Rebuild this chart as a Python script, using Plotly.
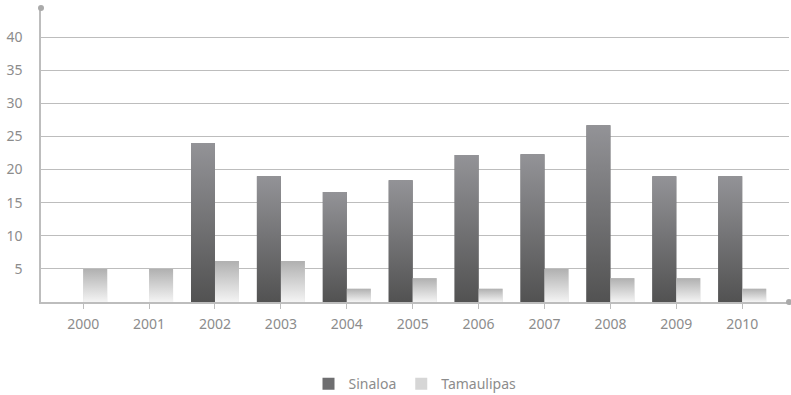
import plotly.graph_objects as go

# Data
years = ["2000", "2001", "2002", "2003", "2004", "2005", "2006", "2007", "2008", "2009", "2010"]
sinaloa = [0, 0, 24.0, 19.0, 16.6, 18.4, 22.2, 22.3, 26.7, 19.0, 19.0]
tamaulipas = [5.0, 5.0, 6.2, 6.2, 2.0, 3.6, 2.0, 5.0, 3.6, 3.6, 2.0]
y_ticks = [5, 10, 15, 20, 25, 30, 35, 40]

TEXT = "#8c8c8c"
AXIS = "#bdbdbd"
BAR_W = 0.364  # width of one bar, in category units
xs = list(range(len(years)))

# name, values, side offset, solid colour, vertical gradient (bottom -> top)
series = [
    ("Sinaloa", sinaloa, -1, "#6e6e70", [[0, "#525252"], [1, "#939397"]]),
    ("Tamaulipas", tamaulipas, 0, "#d6d6d6", [[0, "#f4f4f4"], [1, "#b0b0b0"]]),
]

fig = go.Figure()

# grouped bars (solid base colour, also used for the legend)
for name, values, side, solid, scale in series:
    fig.add_trace(go.Bar(
        x=xs, y=values, name=name, marker=dict(color=solid, line=dict(width=0)),
        hoverinfo="skip",
    ))

# vertical gradient fill laid over each bar
for name, values, side, solid, scale in series:
    for i, v in enumerate(values):
        if v <= 0:
            continue
        x0 = i + side * BAR_W
        x1 = x0 + BAR_W
        fig.add_trace(go.Scatter(
            x=[x0, x1, x1, x0, x0],
            y=[0, 0, v, v, 0],
            mode="lines",
            line=dict(width=0),
            fill="toself",
            fillgradient=dict(type="vertical", colorscale=scale),
            showlegend=False,
            hoverinfo="skip",
        ))

fig.update_layout(
    width=791,
    height=395,
    margin=dict(l=41, r=2, t=8, b=93, autoexpand=False),
    paper_bgcolor="white",
    plot_bgcolor="white",
    font=dict(family="Noto Sans", size=14, color=TEXT),
    barmode="group",
    bargap=1 - 2 * BAR_W,
    bargroupgap=0,
    showlegend=True,
    legend=dict(
        orientation="h",
        x=0.5, xanchor="center",
        y=-0.279, yanchor="middle",
        font=dict(size=14, color=TEXT),
    ),
    xaxis=dict(
        range=[-0.64, 10.71],
        tickmode="array",
        tickvals=xs,
        ticktext=years,
        showgrid=False,
        zeroline=False,
        showline=True,
        linecolor=AXIS,
        linewidth=1.5,
        ticks="outside",
        ticklen=5,
        tickcolor=AXIS,
        tickwidth=1,
        ticklabelstandoff=3,
    ),
    yaxis=dict(
        range=[0, 44.4],
        tickmode="array",
        tickvals=y_ticks,
        showgrid=True,
        gridcolor=AXIS,
        gridwidth=1,
        zeroline=False,
        showline=True,
        linecolor=AXIS,
        linewidth=1.5,
        ticks="",
        ticklabelstandoff=14,
    ),
    shapes=[
        # end dots on the axis lines
        dict(type="circle", xref="paper", yref="paper", xsizemode="pixel", ysizemode="pixel",
             xanchor=0, yanchor=1, x0=-3, x1=3, y0=-3, y1=3,
             fillcolor="#aaaaaa", line=dict(width=0), layer="above"),
        dict(type="circle", xref="paper", yref="paper", xsizemode="pixel", ysizemode="pixel",
             xanchor=1, yanchor=0, x0=-3, x1=3, y0=-3, y1=3,
             fillcolor="#aaaaaa", line=dict(width=0), layer="above"),
    ],
)

fig.write_html("out.html")
